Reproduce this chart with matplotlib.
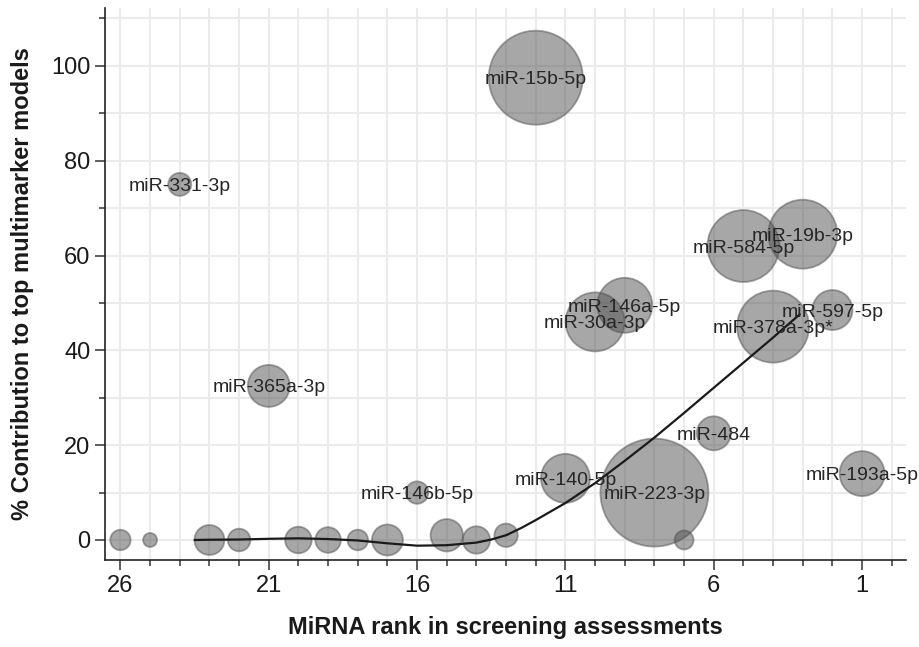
import matplotlib
matplotlib.use("Agg")
import matplotlib.pyplot as plt
import numpy as np
from matplotlib.ticker import MultipleLocator, FixedLocator

plt.rcParams['font.family'] = ['Liberation Sans', 'DejaVu Sans']

# Data
rank = [26, 25, 24, 23, 22, 21, 20, 19, 18, 17, 16, 15, 14, 13, 12,
        11, 10, 9, 8, 7, 6, 5, 4, 3, 2, 1]
contribution = [0, 0, 75, 0, 0, 32.5, 0, 0, 0, 0, 10, 1, 0, 1, 97.5,
                13, 46, 49.5, 10, 0, 22.5, 62, 45, 64.5, 48.5, 14]
bubble_radius = [10.2, 7, 11.5, 15, 11.3, 21, 13.3, 12.8, 10.3, 15.5, 11.2, 16.2, 13.7, 11.7, 47,
                 24.5, 29.5, 27.5, 54, 9.5, 17, 36, 36, 34.5, 20, 22.5]
labels = ["", "", "miR-331-3p", "", "", "miR-365a-3p", "", "", "", "", "miR-146b-5p", "", "", "", "miR-15b-5p",
          "miR-140-5p", "miR-30a-3p", "miR-146a-5p", "miR-223-3p", "", "miR-484", "miR-584-5p", "miR-378a-3p*",
          "miR-19b-3p", "miR-597-5p", "miR-193a-5p"]

# Smoothed trend
trend_x = [23.5, 23.0, 22.0, 21.0, 20.0, 19.0, 18.0, 17.0, 16.0, 15.0, 14.0, 13.5, 13.0, 12.5,
           12.0, 11.0, 10.0, 9.0, 8.0, 7.0, 6.0, 5.0, 4.0, 3.1]
trend_y = [0.0, 0.05, 0.1, 0.25, 0.35, 0.2, -0.1, -0.7, -1.2, -1.1, -0.55, 0.1, 1.0, 2.5,
           4.2, 7.8, 12.0, 16.7, 21.6, 26.8, 32.1, 37.4, 42.7, 47.6]

W, H, DPI = 919, 647, 100
fig = plt.figure(figsize=(W / DPI, H / DPI), dpi=DPI)
ax = fig.add_axes([105 / W, 1 - 560 / H, (906 - 105) / W, (560 - 8) / H])

ax.set_xlim(26.52, -0.48)
ax.set_ylim(-4.22, 112.2)

# grid
ax.xaxis.set_major_locator(FixedLocator([26, 21, 16, 11, 6, 1]))
ax.xaxis.set_minor_locator(MultipleLocator(1))
ax.yaxis.set_major_locator(MultipleLocator(20))
ax.yaxis.set_minor_locator(MultipleLocator(10))
ax.grid(True, which='both', color='#ebebeb', linewidth=1.5, zorder=0)
ax.set_axisbelow(True)

sizes = [(2 * r * 72 / DPI) ** 2 for r in bubble_radius]
ax.scatter(rank, contribution, s=sizes, c='#505050', alpha=0.5,
           edgecolors='#505050', linewidths=1.3, zorder=3)

ax.plot(trend_x, trend_y, color='#1a1a1a', linewidth=1.6, zorder=4,
        solid_joinstyle='round', solid_capstyle='round')

for x, y, lab in zip(rank, contribution, labels):
    if lab:
        ax.text(x, y, lab, ha='center', va='center_baseline', fontsize=14,
                color='#262626', zorder=5)

for side in ['top', 'right']:
    ax.spines[side].set_visible(False)
for side in ['left', 'bottom']:
    ax.spines[side].set_color('#222222')
    ax.spines[side].set_linewidth(1.2)

ax.tick_params(axis='both', which='major', length=7.5, width=1.1, color='#333333',
               labelsize=17, labelcolor='#1a1a1a', pad=3)
ax.tick_params(axis='both', which='minor', length=4.5, width=1.1, color='#333333')

ax.set_xlabel("MiRNA rank in screening assessments", fontsize=17, fontweight='bold',
              labelpad=14, color='#1a1a1a')
ax.set_ylabel("% Contribution to top multimarker models", fontsize=17, fontweight='bold',
              labelpad=12, color='#1a1a1a')

fig.savefig("out.png", dpi=DPI)
